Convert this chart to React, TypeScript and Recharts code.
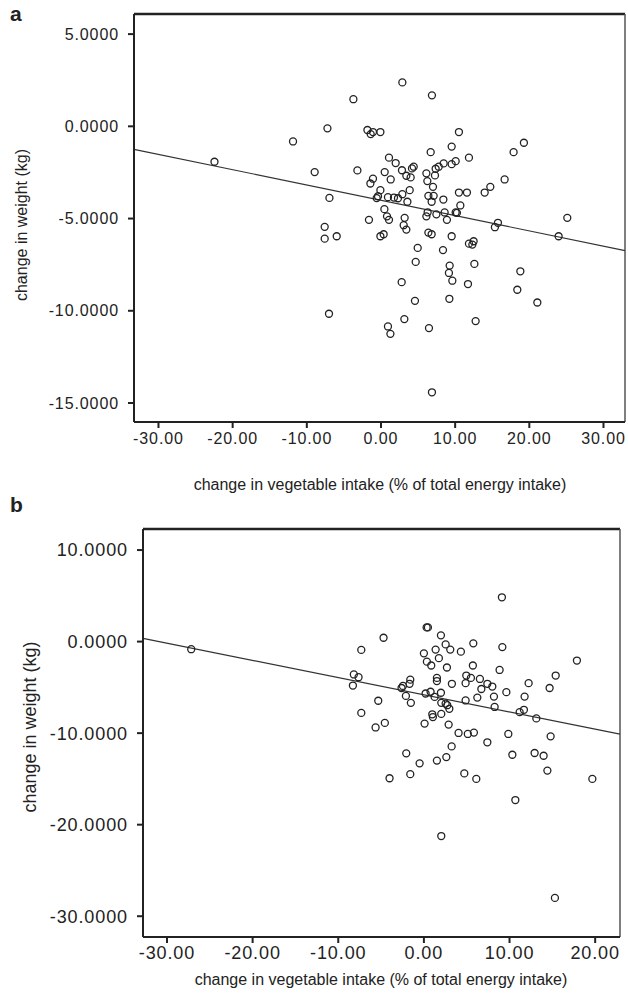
import React from 'react';
import { ScatterChart, Scatter, XAxis, YAxis, ReferenceLine } from 'recharts';

// panel a: change in vegetable intake vs change in weight
const vegA = [
  -22.45, -11.86, -8.94, -7.22, -6.95, -3.72, -7.59, -7.59, -5.97, -7.01,
  -3.18, -1.83, -1.39, -1.08, -0.08, -1.62, -1.08, -1.43, 0.5, 1.31,
  1.08, 1.98, -0.08, -0.4, -0.58, 0.94, 1.75, 2.29, 2.88, 3.56,
  3.87, 2.83, 3.42, 4.0, 4.18, 4.41, 2.88, 6.87, 10.51, 6.7,
  9.53, 11.86, 6.12, 7.28, 7.37, 7.78, 8.45, 9.53, 10.07, 6.25,
  7.01, 6.39, 7.1, 6.83, 8.41, 10.51, 11.59, 13.98, 14.74, 10.7,
  10.07, 10.24, 8.58, 7.47, 6.12, 6.29, 8.89, 0.46, 0.81, 1.08,
  3.19, 3.06, 3.42, -0.08, 0.36, 6.39, 6.83, 9.53, 11.86, 12.49,
  12.32, 4.95, 8.36, 15.36, 15.77, 19.27, 17.88, 16.67, 25.12, 23.95,
  4.68, 9.26, 9.16, 9.62, 12.59, 2.79, 11.73, 18.79, 18.38, 21.08,
  4.58, 9.22, 3.15, 0.94, 1.27, 6.47, 12.76, 6.87,
];
const weightA = [
  -1.92, -0.82, -2.48, -0.11, -3.88, 1.47, -5.45, -6.09, -5.96, -10.16,
  -2.39, -0.2, -0.42, -0.31, -0.31, -5.07, -2.84, -3.1, -2.48, -2.88,
  -1.7, -1.99, -3.46, -3.79, -3.89, -3.84, -3.86, -3.9, -3.68, -4.09,
  -3.46, -2.38, -2.68, -2.77, -2.28, -2.19, 2.38, 1.68, -0.31, -1.4,
  -1.1, -1.7, -2.55, -2.66, -2.3, -2.19, -2.01, -2.05, -1.89, -2.97,
  -3.28, -3.77, -3.77, -4.09, -3.97, -3.59, -3.59, -3.59, -3.28, -4.29,
  -4.67, -4.69, -4.67, -4.77, -4.88, -4.66, -5.07, -4.49, -4.88, -5.07,
  -4.96, -5.36, -5.6, -5.96, -5.85, -5.76, -5.85, -5.96, -6.36, -6.23,
  -6.41, -6.59, -6.71, -5.47, -5.23, -0.89, -1.4, -2.88, -4.96, -5.96,
  -7.35, -7.55, -7.95, -8.37, -7.46, -8.45, -8.55, -7.86, -8.86, -9.55,
  -9.46, -9.35, -10.45, -10.85, -11.25, -10.94, -10.56, -14.42,
];

// panel b
const vegB = [
  -27.17, -4.71, -7.31, -8.18, -7.63, -8.29, -5.33, -7.31, -5.64, -4.56,
  9.11, 0.32, 0.47, 1.99, 5.77, 9.16, 0.0, 1.37, 2.54, 3.08,
  4.32, 1.75, 0.35, 0.86, 2.69, 5.72, 8.84, -1.59, -1.67, -2.45,
  -2.61, 1.52, 1.52, 3.27, 4.95, 5.49, 4.87, 6.54, 7.41, 6.71,
  7.99, 12.23, 9.63, 8.18, 6.24, 11.76, -2.1, 0.2, 0.78, 1.25,
  1.99, -1.52, 2.03, 2.54, 2.73, 2.97, 4.87, 8.26, 11.18, 11.68,
  13.13, 0.98, 1.05, 2.03, 0.08, 2.89, 4.05, 5.13, 5.84, 7.41,
  9.86, 3.24, -2.06, 2.62, 1.52, -0.5, 10.33, 12.93, 13.98, 14.42,
  -1.59, -4.01, 4.72, 6.12, 10.68, 2.03, 17.87, 15.39, 14.68, 14.8,
  19.67, 15.3,
];
const weightB = [
  -0.83, 0.42, -0.91, -3.59, -3.89, -4.8, -6.46, -7.79, -9.38, -8.88,
  4.84, 1.55, 1.55, 0.68, -0.19, -0.6, -1.28, -0.87, -0.31, -0.87,
  -1.1, -1.81, -2.19, -2.61, -2.83, -2.61, -3.1, -4.16, -4.61, -4.84,
  -5.07, -3.97, -4.31, -4.61, -3.71, -3.97, -4.54, -4.08, -4.61, -5.18,
  -4.91, -4.54, -5.52, -6.01, -6.12, -6.01, -5.93, -5.67, -5.48, -6.04,
  -5.59, -6.69, -6.69, -6.77, -6.95, -7.34, -6.43, -7.14, -7.71, -7.45,
  -8.39, -7.94, -8.24, -7.9, -8.96, -9.07, -9.98, -10.09, -9.94, -11.0,
  -10.09, -11.45, -12.21, -12.62, -13.0, -13.3, -12.36, -12.17, -12.47, -14.09,
  -14.48, -14.93, -14.4, -15.0, -17.31, -21.24, -2.07, -3.71, -5.07, -10.35,
  -15.0, -28.0,
];

// fitted lines: [intercept, slope]
const fitA = [-4.01, -0.083];
const fitB = [-5.81, -0.188];

const xTicksA = [-30, -20, -10, 0, 10, 20, 30];
const yTicksA = [5, 0, -5, -10, -15];
const xTicksB = [-30, -20, -10, 0, 10, 20];
const yTicksB = [10, 0, -10, -20, -30];

const xDomainA: [number, number] = [-33.3, 32.9];
const yDomainA: [number, number] = [-16.03, 6.09];
const xDomainB: [number, number] = [-32.8, 22.9];
const yDomainB: [number, number] = [-32.27, 12.3];

const FONT = '"Liberation Sans", Arial, Helvetica, sans-serif';
const INK = '#222';

const dataA = vegA.map((v, i) => ({ x: v, y: weightA[i] }));
const dataB = vegB.map((v, i) => ({ x: v, y: weightB[i] }));

const Ring = (props: any) => {
  const { cx, cy } = props;
  if (cx == null || cy == null) return null;
  return <circle cx={cx} cy={cy} r={3.5} fill="none" stroke={INK} strokeWidth={1.3} />;
};

function Panel({ data, fit, xDomain, yDomain, xTicks, yTicks, yAxisWidth, height, margin, fontSize, xTickMargin }: any) {
  const [b0, b1] = fit;
  const seg = [
    { x: xDomain[0], y: b0 + b1 * xDomain[0] },
    { x: xDomain[1], y: b0 + b1 * xDomain[1] },
  ];
  const xAxisHeight = height - margin.top - margin.bottom - 408;
  const tickStyle = { fontSize, fill: INK, fontFamily: FONT, letterSpacing: 0.9 };
  return (
    <ScatterChart width={628} height={height} margin={margin}>
      <XAxis
        type="number"
        dataKey="x"
        domain={xDomain}
        ticks={xTicks}
        allowDataOverflow
        height={xAxisHeight}
        tick={tickStyle}
        tickFormatter={(v: number) => v.toFixed(2)}
        tickSize={6}
        tickMargin={xTickMargin}
        axisLine={{ stroke: INK, strokeWidth: 2 }}
        tickLine={{ stroke: INK, strokeWidth: 2 }}
      />
      <YAxis
        type="number"
        dataKey="y"
        domain={yDomain}
        ticks={yTicks}
        allowDataOverflow
        width={yAxisWidth}
        tick={tickStyle}
        tickFormatter={(v: number) => v.toFixed(4)}
        tickSize={6}
        tickMargin={9}
        axisLine={{ stroke: INK, strokeWidth: 2 }}
        tickLine={{ stroke: INK, strokeWidth: 2 }}
      />
      <ReferenceLine y={yDomain[1]} stroke={INK} strokeWidth={2.5} />
      <ReferenceLine x={xDomain[1]} stroke="#555" strokeWidth={1.5} />
      <ReferenceLine segment={seg} stroke="#333" strokeWidth={1.2} />
      <Scatter data={data} shape={<Ring />} isAnimationActive={false} />
    </ScatterChart>
  );
}

const textBase: React.CSSProperties = {
  position: 'absolute',
  fontFamily: FONT,
  fontSize: 16,
  color: INK,
  whiteSpace: 'nowrap',
  lineHeight: 1,
};

export default function App() {
  return (
    <div style={{ position: 'absolute', left: 0, top: 0, width: 628, height: 997, background: '#fff' }}>
      <div style={{ ...textBase, left: 10, top: 3, fontSize: 21, fontWeight: 'bold' }}>a</div>
      <div style={{ position: 'absolute', left: 0, top: 0 }}>
        <Panel
          data={dataA}
          fit={fitA}
          xDomain={xDomainA}
          yDomain={yDomainA}
          xTicks={xTicksA}
          yTicks={yTicksA}
          yAxisWidth={134}
          height={500}
          margin={{ top: 14, right: 3, bottom: 0, left: 0 }}
          fontSize={16}
          xTickMargin={5}
        />
      </div>
      <div style={{ ...textBase, left: 380, top: 485, transform: 'translate(-50%, -50%)' }}>
        change in vegetable intake (% of total energy intake)
      </div>
      <div style={{ ...textBase, left: 22, top: 225, transform: 'translate(-50%, -50%) rotate(-90deg)' }}>
        change in weight (kg)
      </div>

      <div style={{ ...textBase, left: 10, top: 494, fontSize: 21, fontWeight: 'bold' }}>b</div>
      <div style={{ position: 'absolute', left: 0, top: 500 }}>
        <Panel
          data={dataB}
          fit={fitB}
          xDomain={xDomainB}
          yDomain={yDomainB}
          xTicks={xTicksB}
          yTicks={yTicksB}
          yAxisWidth={143}
          height={497}
          margin={{ top: 29, right: 8, bottom: 0, left: 0 }}
          fontSize={18}
          xTickMargin={3}
        />
      </div>
      <div style={{ ...textBase, left: 381, top: 980, transform: 'translate(-50%, -50%)' }}>
        change in vegetable intake (% of total energy intake)
      </div>
      <div style={{ ...textBase, left: 30, top: 727, fontSize: 18, transform: 'translate(-50%, -50%) rotate(-90deg)' }}>
        change in weight (kg)
      </div>
    </div>
  );
}
